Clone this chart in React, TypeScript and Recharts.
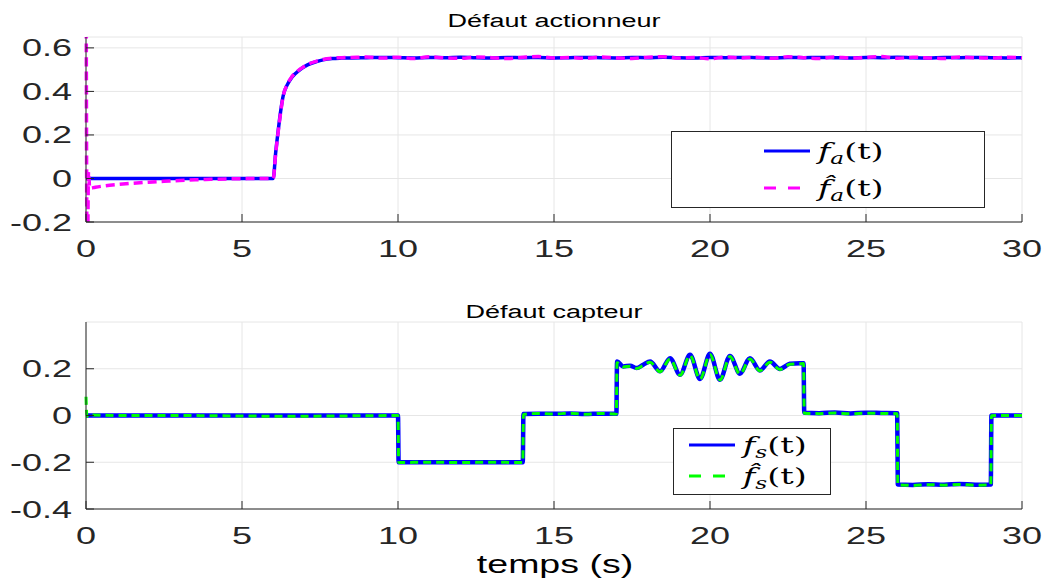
import React from 'react';
import { LineChart, Line, XAxis, YAxis, CartesianGrid } from 'recharts';

// ---- data ----
const xTicks = [0, 5, 10, 15, 20, 25, 30];
const topYTicks = [-0.2, 0, 0.2, 0.4, 0.6];
const botYTicks = [-0.4, -0.2, 0, 0.2];

const topTime = [
  0, 0.04, 0.08, 0.12, 0.3, 0.6, 1, 1.5, 2, 2.5,
  3, 3.5, 4, 4.5, 5, 5.5, 6, 6.08, 6.16, 6.24,
  6.32, 6.45, 6.6, 6.86, 7.1, 7.39, 7.6, 7.9, 8.2, 8.5,
  9, 9.5, 10, 10.5, 11, 11.5, 12, 12.5, 13, 13.5,
  14, 14.5, 15, 15.5, 16, 16.5, 17, 17.5, 18, 18.5,
  19, 19.5, 20, 20.5, 21, 21.5, 22, 22.5, 23, 23.5,
  24, 24.5, 25, 25.5, 26, 26.5, 27, 27.5, 28, 28.5,
  29, 29.5, 30,
];
const fa = [
  0, 0, 0, 0, 0, 0, 0, 0, 0, 0,
  0, 0, 0, 0, 0, 0, 0, 0.12, 0.22, 0.31,
  0.38, 0.43, 0.465, 0.5, 0.522, 0.537, 0.545, 0.551, 0.553, 0.554,
  0.555, 0.556, 0.555, 0.554, 0.556, 0.555, 0.557, 0.555, 0.554, 0.556,
  0.555, 0.556, 0.554, 0.555, 0.556, 0.555, 0.554, 0.556, 0.555, 0.557,
  0.555, 0.554, 0.556, 0.555, 0.556, 0.555, 0.554, 0.556, 0.555, 0.556,
  0.555, 0.554, 0.556, 0.555, 0.557, 0.555, 0.554, 0.556, 0.555, 0.556,
  0.555, 0.554, 0.555,
];
const faHat = [
  1.2, -0.5, 0.03, -0.045, -0.04, -0.034, -0.028, -0.022, -0.017, -0.013,
  -0.009, -0.006, -0.004, -0.002, -0.001, 0, 0, 0.115, 0.215, 0.305,
  0.378, 0.432, 0.468, 0.502, 0.524, 0.539, 0.547, 0.553, 0.555, 0.556,
  0.558, 0.553, 0.557, 0.551, 0.559, 0.554, 0.552, 0.558, 0.555, 0.551,
  0.557, 0.56, 0.553, 0.556, 0.552, 0.558, 0.554, 0.551, 0.557, 0.559,
  0.553, 0.556, 0.55, 0.558, 0.554, 0.557, 0.552, 0.559, 0.555, 0.551,
  0.558, 0.553, 0.556, 0.56, 0.552, 0.557, 0.554, 0.551, 0.558, 0.555,
  0.553, 0.557, 0.554,
];

const botTime = [
  0, 0.03, 0.06, 1, 2, 3, 4, 5, 6, 7,
  8, 9, 10, 10.02, 11, 12, 13, 14, 14.02, 14.5,
  15, 15.5, 16, 16.5, 17, 17.02, 17.22, 17.44, 17.65, 17.86,
  18.08, 18.4, 18.72, 19.04, 19.36, 19.68, 20, 20.32, 20.64, 20.96,
  21.28, 21.6, 21.92, 22.24, 22.56, 22.88, 23, 23.02, 23.5, 24,
  24.5, 25, 25.5, 26, 26.02, 26.5, 27, 27.5, 28, 28.5,
  29, 29.02, 29.5, 30,
];
const fs = [
  0, 0, 0, 0, 0, 0, 0, 0, 0, 0,
  0, 0, 0, -0.2, -0.2, -0.2, -0.2, -0.2, 0.006, 0.008,
  0.007, 0.009, 0.006, 0.008, 0.007, 0.231, 0.21, 0.213, 0.203, 0.217,
  0.231, 0.189, 0.245, 0.174, 0.26, 0.156, 0.264, 0.153, 0.255, 0.179,
  0.245, 0.193, 0.231, 0.199, 0.221, 0.224, 0.224, 0.012, 0.01, 0.013,
  0.009, 0.012, 0.011, 0.01, -0.295, -0.297, -0.294, -0.296, -0.293, -0.296,
  -0.295, 0, 0, 0,
];
const fsHat = [
  0.08, -0.004, 0.002, 0, 0, 0, -0.001, -0.002, -0.003, -0.003,
  -0.002, -0.001, 0, -0.201, -0.2, -0.201, -0.2, -0.201, 0.004, 0.009,
  0.006, 0.01, 0.005, 0.009, 0.006, 0.226, 0.208, 0.211, 0.201, 0.214,
  0.228, 0.187, 0.242, 0.172, 0.257, 0.155, 0.261, 0.152, 0.252, 0.177,
  0.242, 0.191, 0.228, 0.197, 0.219, 0.221, 0.222, 0.01, 0.008, 0.011,
  0.007, 0.01, 0.009, 0.008, -0.297, -0.299, -0.296, -0.298, -0.295, -0.298,
  -0.297, -0.001, 0, 0,
];

const topRows = topTime.map((t, i) => ({ t, fa: fa[i], faHat: faHat[i] }));
const botRows = botTime.map((t, i) => ({ t, fs: fs[i], fsHat: fsHat[i] }));

// ---- look ----
const W = 1047;
const SX = 1.5; // the original figure is stretched horizontally
const AXIS = '#262626';
const TXT = '#262626';
const GRID = '#e6e6e6';
const SANS = '"Liberation Sans", Arial, sans-serif';
const SERIF = '"DejaVu Serif", "Liberation Serif", serif';
const TL = 8;

function BottomTick({ x, y, payload }: any) {
  return (
    <g>
      <line x1={x} y1={y} x2={x} y2={y - TL} stroke={AXIS} />
      <text transform={`translate(${x},${y + 35}) scale(${SX},1)`} textAnchor="middle"
        fontSize={24} fontFamily={SANS} fill={TXT}>{payload.value}</text>
    </g>
  );
}
function TopTick({ x, y }: any) {
  return <line x1={x} y1={y} x2={x} y2={y + TL} stroke={AXIS} />;
}
function LeftTick({ x, y, payload }: any) {
  return (
    <g>
      <line x1={x} y1={y} x2={x + TL} y2={y} stroke={AXIS} />
      <text transform={`translate(${x - 14},${y + 8.5}) scale(${SX},1)`} textAnchor="end"
        fontSize={24} fontFamily={SANS} fill={TXT}>{String(payload.value)}</text>
    </g>
  );
}
function RightTick({ x, y }: any) {
  return <line x1={x} y1={y} x2={x - TL} y2={y} stroke={AXIS} />;
}

function MathLabel({ sub, hat }: { sub: string; hat?: boolean }) {
  return (
    <span style={{ fontFamily: SERIF, fontSize: 23, display: 'inline-block', whiteSpace: 'nowrap',
      transform: 'scaleX(1.45)', transformOrigin: 'left center', color: '#000', lineHeight: 1 }}>
      <span style={{ fontStyle: 'italic' }}>{hat ? 'f\u0302' : 'f'}</span>
      <span style={{ fontStyle: 'italic', fontSize: 16, position: 'relative', top: 5 }}>{sub}</span>
      <span>(t)</span>
    </span>
  );
}

function LegendRow({ top, color, dashed, sub, hat, textLeft, lineLeft }: any) {
  return (
    <div style={{ position: 'absolute', left: 0, top: top - 14, height: 28, width: '100%' }}>
      <svg width={50} height={28} style={{ position: 'absolute', left: lineLeft, top: 0 }}>
        <line x1={0} y1={14} x2={dashed ? 37 : 46} y2={14} stroke={color} strokeWidth={3}
          strokeDasharray={dashed ? '12 12' : undefined} />
      </svg>
      <div style={{ position: 'absolute', left: textLeft, top: 0, height: 28, display: 'flex', alignItems: 'center' }}>
        <MathLabel sub={sub} hat={hat} />
      </div>
    </div>
  );
}

function Title({ text, top, left, size }: { text: string; top: number; left: number; size: number }) {
  return (
    <div style={{ position: 'absolute', left, top, fontFamily: SANS, fontSize: size, lineHeight: 1,
      whiteSpace: 'nowrap', color: '#000', transform: `translateX(-50%) scaleX(${SX})` }}>{text}</div>
  );
}

export default function App() {
  return (
    <div style={{ position: 'absolute', left: 0, top: 0, width: W, height: 578, background: '#fff', overflow: 'hidden' }}>
      {/* top subplot */}
      <div style={{ position: 'absolute', left: 0, top: 0 }}>
        <LineChart width={W} height={280} data={topRows} margin={{ top: 37, right: 25, left: 0, bottom: 0 }}>
          <CartesianGrid xAxisId="b" yAxisId="l" stroke={GRID} />
          <XAxis xAxisId="b" dataKey="t" type="number" domain={[0, 30]} ticks={xTicks} interval={0}
            height={58} tickSize={0} tickMargin={0} tickLine={false} axisLine={{ stroke: AXIS }} tick={<BottomTick />} />
          <XAxis xAxisId="t" dataKey="t" orientation="top" type="number" domain={[0, 30]} ticks={xTicks} interval={0}
            height={0} tickSize={0} tickMargin={0} tickLine={false} axisLine={{ stroke: AXIS }} tick={<TopTick />} />
          <YAxis yAxisId="l" type="number" domain={[-0.2, 0.65]} ticks={topYTicks} interval={0} allowDataOverflow
            width={86} tickSize={0} tickMargin={0} tickLine={false} axisLine={{ stroke: AXIS }} tick={<LeftTick />} />
          <YAxis yAxisId="r" orientation="right" type="number" domain={[-0.2, 0.65]} ticks={topYTicks} interval={0}
            width={0} tickSize={0} tickMargin={0} tickLine={false} axisLine={{ stroke: AXIS }} tick={<RightTick />} />
          <Line xAxisId="b" yAxisId="l" type="monotone" dataKey="fa" stroke="#0000ff" strokeWidth={3.5} dot={false}
            isAnimationActive={false} strokeLinejoin="round" />
          <Line xAxisId="b" yAxisId="l" type="monotone" dataKey="faHat" stroke="#ff00ff" strokeWidth={3.5}
            strokeDasharray="9 5" dot={false} isAnimationActive={false} strokeLinejoin="round" />
        </LineChart>
      </div>

      {/* bottom subplot */}
      <div style={{ position: 'absolute', left: 0, top: 290 }}>
        <LineChart width={W} height={288} data={botRows} margin={{ top: 32, right: 25, left: 0, bottom: 0 }}>
          <CartesianGrid xAxisId="b" yAxisId="l" stroke={GRID} />
          <XAxis xAxisId="b" dataKey="t" type="number" domain={[0, 30]} ticks={xTicks} interval={0}
            height={69} tickSize={0} tickMargin={0} tickLine={false} axisLine={{ stroke: AXIS }} tick={<BottomTick />} />
          <XAxis xAxisId="t" dataKey="t" orientation="top" type="number" domain={[0, 30]} ticks={xTicks} interval={0}
            height={0} tickSize={0} tickMargin={0} tickLine={false} axisLine={{ stroke: AXIS }} tick={<TopTick />} />
          <YAxis yAxisId="l" type="number" domain={[-0.4, 0.4]} ticks={botYTicks} interval={0} allowDataOverflow
            width={86} tickSize={0} tickMargin={0} tickLine={false} axisLine={{ stroke: AXIS }} tick={<LeftTick />} />
          <YAxis yAxisId="r" orientation="right" type="number" domain={[-0.4, 0.4]} ticks={botYTicks} interval={0}
            width={0} tickSize={0} tickMargin={0} tickLine={false} axisLine={{ stroke: AXIS }} tick={<RightTick />} />
          <Line xAxisId="b" yAxisId="l" type="monotone" dataKey="fs" stroke="#0000ff" strokeWidth={4.5} dot={false}
            isAnimationActive={false} strokeLinejoin="round" />
          <Line xAxisId="b" yAxisId="l" type="monotone" dataKey="fsHat" stroke="#00ff00" strokeWidth={3}
            strokeDasharray="8 5" dot={false} isAnimationActive={false} strokeLinejoin="round" />
        </LineChart>
      </div>

      <Title text="Défaut actionneur" top={12} left={554} size={18} />
      <Title text="Défaut capteur" top={303} left={554} size={18} />
      <Title text="temps (s)" top={552} left={555} size={25} />

      {/* legends */}
      <div style={{ position: 'absolute', left: 671, top: 131, width: 312, height: 75, border: '1px solid #262626', background: '#fff' }}>
        <LegendRow top={19} color="#0000ff" sub="a" lineLeft={92} textLeft={146} />
        <LegendRow top={56} color="#ff00ff" dashed sub="a" hat lineLeft={92} textLeft={146} />
      </div>
      <div style={{ position: 'absolute', left: 673, top: 428, width: 156, height: 65, border: '1px solid #262626', background: '#fff' }}>
        <LegendRow top={16} color="#0000ff" sub="s" lineLeft={15} textLeft={69} />
        <LegendRow top={47} color="#00ff00" dashed sub="s" hat lineLeft={15} textLeft={69} />
      </div>
    </div>
  );
}
